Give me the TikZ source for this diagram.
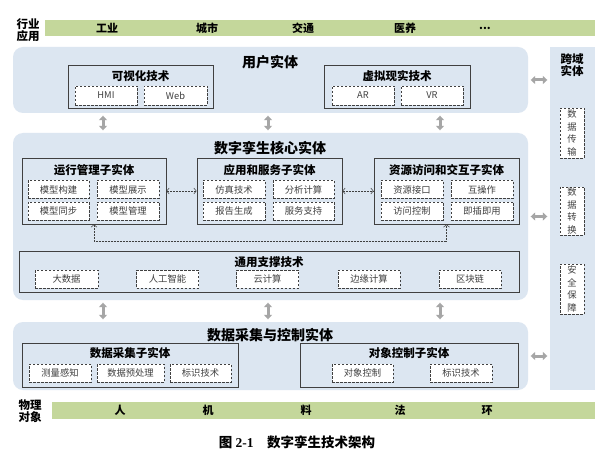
\documentclass[tikz,border=0pt]{standalone}
\usepackage{fontspec}
\setmainfont{Noto Sans CJK SC}
\newfontfamily\capfont{Liberation Serif}
\usetikzlibrary{arrows.meta}
\definecolor{gbar}{HTML}{C4D79B}
\definecolor{lblue}{HTML}{DCE6F1}
\definecolor{bord}{HTML}{404040}
\definecolor{arrg}{HTML}{A6A6A6}
\begin{document}
\begin{tikzpicture}[x=1pt,y=-1pt,
  bigbox/.style={fill=lblue,rounded corners=10pt,draw=none,inner sep=0pt},
  subbox/.style={draw=bord,line width=0.8pt,fill=lblue,inner sep=0pt},
  dbox/.style={draw=bord,dashed,dash pattern=on 2.5pt off 1.5pt,line width=0.5pt,fill=white,inner sep=0pt,text=bord,font=\fontsize{9.3}{10}\selectfont},
  vbox/.style={dbox,minimum width=24pt,align=center,font=\fontsize{9.3}{12.5}\selectfont},
  bar/.style={fill=gbar,draw=none,inner sep=0pt},
  bigtitle/.style={font=\fontsize{14}{16}\selectfont\bfseries,inner sep=0pt},
  subtitle/.style={font=\fontsize{11.5}{13}\selectfont\bfseries,inner sep=0pt},
  bartext/.style={font=\fontsize{11}{13}\selectfont\bfseries,inner sep=0pt},
  sidetext/.style={font=\fontsize{11.5}{12.5}\selectfont\bfseries,align=center,inner sep=0pt},
  fatarr/.style={draw=arrg,line width=3pt,{Triangle[width=8pt,length=4.5pt]}-{Triangle[width=8pt,length=4.5pt]},shorten <=2.5pt,shorten >=2.5pt},
  dotarr/.style={draw=bord,line width=0.5pt,densely dotted,{Straight Barb[length=2.5pt,width=6pt]}-{Straight Barb[length=2.5pt,width=6pt]}}
]
\useasboundingbox (0,0) rectangle (599,454);
\fill[white] (0,0) rectangle (599,454);

% top bar
\node[bar,minimum width=550pt,minimum height=16pt] (topbar) at (320,28) {};
\node[sidetext] (toplab) at (28,30) {行业\\应用};
\node[bartext] (t1) at (107,28) {工业};
\node[bartext] (t2) at (207,28) {城市};
\node[bartext] (t3) at (303,28) {交通};
\node[bartext] (t4) at (405,28) {医养};
\node[bartext] (t5) at (485,28) {...};

% right column
\node[fill=lblue,draw=none,inner sep=0pt,minimum width=45pt,minimum height=343pt] (rc) at (572.5,218.5) {};
\node[sidetext] (rct) at (572,65) {跨域\\实体};
\node[vbox,minimum height=50pt] (rc1) at (572,133) {数\\据\\传\\输};
\node[vbox,minimum height=48pt] (rc2) at (572,211) {数\\据\\转\\换};
\node[vbox,minimum height=50pt] (rc3) at (572,289) {安\\全\\保\\障};

% user entity
\node[bigbox,minimum width=515pt,minimum height=66pt] (user) at (270.5,80) {};
\node[bigtitle] (usert) at (270,62) {用户实体};
\node[subbox,minimum width=145pt,minimum height=43pt] (vis) at (140.5,86.5) {};
\node[subtitle] (vist) at (140.5,76) {可视化技术};
\node[dbox,minimum width=62pt,minimum height=19pt] (hmi) at (106,95.5) {HMI};
\node[dbox,minimum width=63pt,minimum height=19pt] (web) at (175.5,95.5) {Web};
\node[subbox,minimum width=146pt,minimum height=43pt] (vr) at (397,86.5) {};
\node[subtitle] (vrt) at (397,76) {虚拟现实技术};
\node[dbox,minimum width=62pt,minimum height=19pt] (ar) at (363,95.5) {AR};
\node[dbox,minimum width=62pt,minimum height=19pt] (vrr) at (432,95.5) {VR};

% core entity
\node[bigbox,minimum width=515pt,minimum height=167pt] (core) at (270.5,216.5) {};
\node[bigtitle] (coret) at (270,148) {数字孪生核心实体};
\node[subbox,minimum width=144pt,minimum height=66pt] (run) at (94,191) {};
\node[subtitle] (runt) at (94,170) {运行管理子实体};
\node[dbox,minimum width=61pt,minimum height=18pt] (r1) at (58.5,189.5) {模型构建};
\node[dbox,minimum width=62pt,minimum height=18pt] (r2) at (128,189.5) {模型展示};
\node[dbox,minimum width=61pt,minimum height=18pt] (r3) at (58.5,211) {模型同步};
\node[dbox,minimum width=62pt,minimum height=18pt] (r4) at (128,211) {模型管理};
\node[subbox,minimum width=145pt,minimum height=66pt] (app) at (269.5,191) {};
\node[subtitle] (appt) at (269.5,170) {应用和服务子实体};
\node[dbox,minimum width=62pt,minimum height=18pt] (a1) at (234,189.5) {仿真技术};
\node[dbox,minimum width=61pt,minimum height=18pt] (a2) at (303.5,189.5) {分析计算};
\node[dbox,minimum width=62pt,minimum height=18pt] (a3) at (234,211) {报告生成};
\node[dbox,minimum width=61pt,minimum height=18pt] (a4) at (303.5,211) {服务支持};
\node[subbox,minimum width=145pt,minimum height=66pt] (res) at (446.5,191) {};
\node[subtitle] (rest) at (446.5,170) {资源访问和交互子实体};
\node[dbox,minimum width=62pt,minimum height=18pt] (s1) at (412,189.5) {资源接口};
\node[dbox,minimum width=62pt,minimum height=18pt] (s2) at (482,189.5) {互操作};
\node[dbox,minimum width=62pt,minimum height=18pt] (s3) at (412,211) {访问控制};
\node[dbox,minimum width=62pt,minimum height=18pt] (s4) at (482,211) {即插即用};
\draw[dotarr] (run.east) -- (app.west);
\draw[dotarr] (app.east) -- (res.west);
\draw[dotarr] (run.south) -- ++(0,17) -| (res.south);

\node[subbox,minimum width=500pt,minimum height=41pt] (gen) at (269,271.5) {};
\node[subtitle] (gent) at (269,262) {通用支撑技术};
\node[dbox,minimum width=63pt,minimum height=18pt] (g1) at (66.5,279) {大数据};
\node[dbox,minimum width=62pt,minimum height=18pt] (g2) at (167.5,279) {人工智能};
\node[dbox,minimum width=62pt,minimum height=18pt] (g3) at (267.5,279) {云计算};
\node[dbox,minimum width=62pt,minimum height=18pt] (g4) at (369,279) {边缘计算};
\node[dbox,minimum width=62pt,minimum height=18pt] (g5) at (470,279) {区块链};

% data entity
\node[bigbox,minimum width=515pt,minimum height=68pt] (data) at (270.5,356) {};
\node[bigtitle] (datat) at (270,335) {数据采集与控制实体};
\node[subbox,minimum width=216pt,minimum height=44pt] (acq) at (130,365) {};
\node[subtitle] (acqt) at (130,353) {数据采集子实体};
\node[dbox,minimum width=62pt,minimum height=18pt] (q1) at (60,373) {测量感知};
\node[dbox,minimum width=67pt,minimum height=18pt] (q2) at (130.5,373) {数据预处理};
\node[dbox,minimum width=61pt,minimum height=18pt] (q3) at (200.5,373) {标识技术};
\node[subbox,minimum width=218pt,minimum height=44pt] (ctl) at (409,365) {};
\node[subtitle] (ctlt) at (409,353) {对象控制子实体};
\node[dbox,minimum width=61pt,minimum height=18pt] (c1) at (362.5,373) {对象控制};
\node[dbox,minimum width=62pt,minimum height=18pt] (c2) at (461,373) {标识技术};

% vertical arrows
\coordinate (xa) at (103,0);
\coordinate (xb) at (268,0);
\coordinate (xc) at (440,0);
\draw[fatarr] (user.south -| xa) -- (core.north -| xa);
\draw[fatarr] (user.south -| xb) -- (core.north -| xb);
\draw[fatarr] (user.south -| xc) -- (core.north -| xc);
\draw[fatarr] (core.south -| xa) -- (data.north -| xa);
\draw[fatarr] (core.south -| xb) -- (data.north -| xb);
\draw[fatarr] (core.south -| xc) -- (data.north -| xc);
% horizontal arrows
\draw[fatarr] (user.east) -- (rc.west |- user.east);
\draw[fatarr] (core.east) -- (rc.west |- core.east);
\draw[fatarr] (data.east) -- (rc.west |- data.east);

% bottom bar
\node[bar,minimum width=543pt,minimum height=17pt] (botbar) at (323.5,410.5) {};
\node[sidetext] (botlab) at (30,411) {物理\\对象};
\node[bartext] (b1) at (120,410.5) {人};
\node[bartext] (b2) at (208,410.5) {机};
\node[bartext] (b3) at (306,410.5) {料};
\node[bartext] (b4) at (400,410.5) {法};
\node[bartext] (b5) at (487,410.5) {环};

% caption
\node[inner sep=0pt,font=\fontsize{13.5}{15}\selectfont\bfseries] (cap) at (297,442) {图 {\capfont\bfseries 2-1}\quad 数字孪生技术架构};
\end{tikzpicture}
\end{document}
